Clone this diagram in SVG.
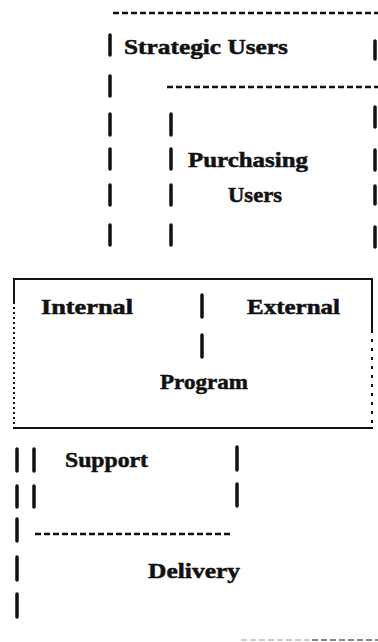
<svg xmlns="http://www.w3.org/2000/svg" width="378" height="642" viewBox="0 0 378 642">
<style>
text{font-family:"Liberation Serif","Times New Roman",serif;font-weight:bold;font-size:21px;fill:#111;stroke:#111;stroke-width:0.5}
.bar{stroke:#111;stroke-width:3.5;stroke-linecap:round}
.dash{stroke:#111;stroke-width:2.5;stroke-dasharray:6 3;fill:none}
.solid{stroke:#111;stroke-width:2;fill:none}
.dot{stroke:#111;stroke-width:2;stroke-dasharray:2 3;fill:none}
</style>
<rect width="378" height="642" fill="#fff"/>
<g id="node-strategic">
<line class="dash" x1="113" y1="13" x2="378" y2="13"/>
<line class="bar" x1="110" y1="35" x2="110" y2="55"/>
<text x="124" y="54" textLength="164" lengthAdjust="spacingAndGlyphs">Strategic Users</text>
<line class="bar" x1="375" y1="41" x2="375" y2="59"/>
<line class="bar" x1="110" y1="76" x2="110" y2="96"/>
<line class="bar" x1="110" y1="114" x2="110" y2="135"/>
<line class="bar" x1="110" y1="149" x2="110" y2="169"/>
<line class="bar" x1="110" y1="185" x2="110" y2="205"/>
<line class="bar" x1="110" y1="225" x2="110" y2="245"/>
<line class="bar" x1="375" y1="107" x2="375" y2="127"/>
<line class="bar" x1="375" y1="150" x2="375" y2="170"/>
<line class="bar" x1="375" y1="186" x2="375" y2="204"/>
<line class="bar" x1="375" y1="227" x2="375" y2="247"/>
</g>
<g id="node-purchasing">
<line class="dash" x1="167" y1="87" x2="378" y2="87"/>
<line class="bar" x1="171" y1="114" x2="171" y2="135"/>
<line class="bar" x1="171" y1="149" x2="171" y2="169"/>
<line class="bar" x1="171" y1="185" x2="171" y2="205"/>
<line class="bar" x1="171" y1="225" x2="171" y2="245"/>
<text x="188" y="167" textLength="120" lengthAdjust="spacingAndGlyphs">Purchasing</text>
<text x="228" y="202" textLength="54" lengthAdjust="spacingAndGlyphs">Users</text>
</g>
<g id="node-program">
<line class="solid" x1="13" y1="279" x2="373" y2="279"/>
<line class="solid" x1="13" y1="428" x2="373" y2="428"/>
<line class="solid" x1="14" y1="279" x2="14" y2="302"/>
<line class="dot" x1="14" y1="302" x2="14" y2="428"/>
<line class="solid" x1="372" y1="279" x2="372" y2="330"/>
<line class="dot" x1="372" y1="330" x2="372" y2="428" style="stroke-dasharray:3 6"/>
<text x="41" y="314" textLength="92" lengthAdjust="spacingAndGlyphs">Internal</text>
<line class="bar" x1="202" y1="295" x2="202" y2="317"/>
<text x="247" y="314" textLength="93" lengthAdjust="spacingAndGlyphs">External</text>
<line class="bar" x1="202" y1="335" x2="202" y2="357"/>
<text x="160" y="389" textLength="88" lengthAdjust="spacingAndGlyphs">Program</text>
</g>
<g id="node-support">
<line class="bar" x1="34" y1="449" x2="34" y2="471"/>
<line class="bar" x1="34" y1="486" x2="34" y2="507"/>
<text x="65" y="467" textLength="83" lengthAdjust="spacingAndGlyphs">Support</text>
<line class="bar" x1="237" y1="447" x2="237" y2="470"/>
<line class="bar" x1="237" y1="484" x2="237" y2="506"/>
<line class="dash" x1="35" y1="534" x2="231" y2="534"/>
</g>
<g id="node-delivery">
<line class="bar" x1="17" y1="449" x2="17" y2="471"/>
<line class="bar" x1="17" y1="486" x2="17" y2="507"/>
<line class="bar" x1="17" y1="519" x2="17" y2="541"/>
<line class="bar" x1="17" y1="557" x2="17" y2="580"/>
<line class="bar" x1="17" y1="594" x2="17" y2="617"/>
<text x="148" y="578" textLength="92" lengthAdjust="spacingAndGlyphs">Delivery</text>
<line x1="241" y1="640" x2="312" y2="640" style="stroke:#ccc;stroke-width:2;stroke-dasharray:6 3"/>
<line x1="312" y1="640" x2="378" y2="640" style="stroke:#888;stroke-width:2;stroke-dasharray:6 3"/>
</g>
</svg>
